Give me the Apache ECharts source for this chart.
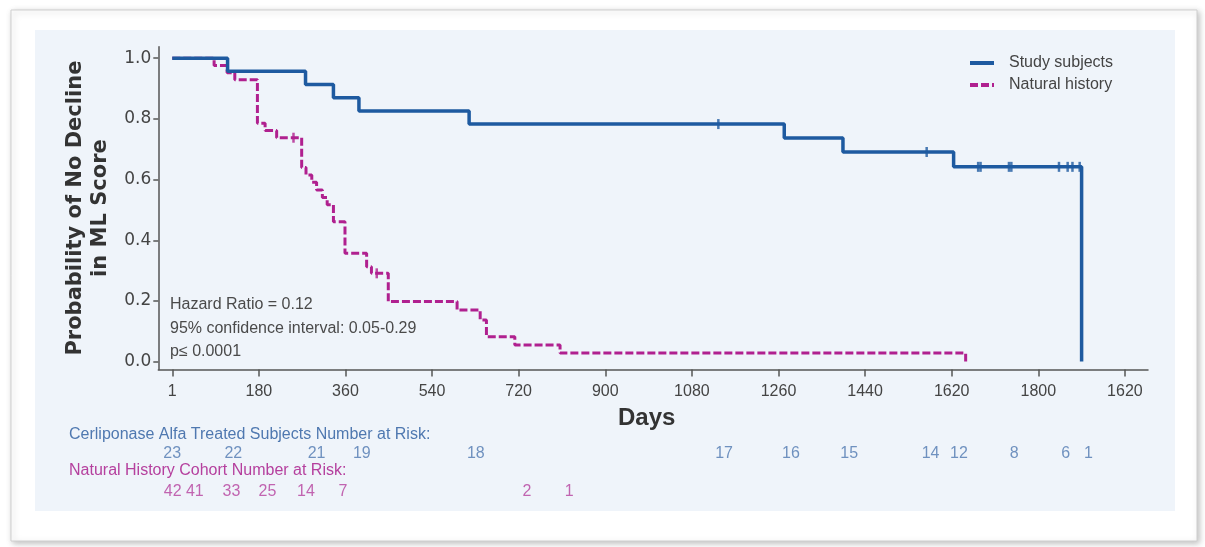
<!DOCTYPE html>
<html><head><meta charset="utf-8">
<script src="https://cdn.jsdelivr.net/npm/echarts@6/dist/echarts.min.js"></script>
<style>html,body{margin:0;padding:0;background:#fff}#c{width:1205px;height:547px}</style>
</head><body><div id="c"></div>
<script>
// ---------- data ----------
const xTickValues = [0, 180, 360, 540, 720, 900, 1080, 1260, 1440, 1620, 1800, 1980];
const xTickLabels = ['1', '180', '360', '540', '720', '900', '1080', '1260', '1440', '1620', '1800', '1620'];
const yTickValues = [0, 0.2, 0.4, 0.6, 0.8, 1.0];

const seriesNames = ['Study subjects', 'Natural history'];

// Kaplan-Meier steps (day of event, survival after event)
const studyDays = [0, 115, 277, 335, 388, 617, 1272, 1394, 1624, 1890];
const studySurv = [1.0, 0.957, 0.913, 0.870, 0.826, 0.783, 0.737, 0.691, 0.642, 0.0];
const studyCensorDays = [1135, 1568, 1675, 1680, 1739, 1744, 1843, 1861, 1871, 1886];

const nhDays = [0, 87, 114, 130, 177, 193, 217, 269, 278, 290, 300, 312, 322, 335, 359, 404, 414, 449, 592, 640, 653, 712, 806, 1649];
const nhSurv = [1.0, 0.976, 0.952, 0.929, 0.786, 0.762, 0.738, 0.640, 0.615, 0.591, 0.566, 0.541, 0.517, 0.461, 0.357, 0.313, 0.291, 0.198, 0.170, 0.137, 0.082, 0.055, 0.028, 0.0];
const nhCensorDays = [252, 425];

// Number at risk rows
const riskStudyDays = [0, 127, 300, 394, 631, 1147, 1286, 1407, 1576, 1635, 1750, 1857, 1904];
const riskStudyN = [23, 22, 21, 19, 18, 17, 16, 15, 14, 12, 8, 6, 1];
const riskNhDays = [1, 47, 123, 198, 278, 355, 737, 825];
const riskNhN = [42, 41, 33, 25, 14, 7, 2, 1];

const riskHeaders = ['Cerliponase Alfa Treated Subjects Number at Risk:', 'Natural History Cohort Number at Risk:'];
const statsLines = ['Hazard Ratio = 0.12', '95% confidence interval: 0.05-0.29', 'p\u2264 0.0001'];

// ---------- helpers ----------
function survAt(days, surv, t) {
  let s = surv[0];
  for (let i = 0; i < days.length; i++) { if (days[i] <= t) s = surv[i]; }
  return s;
}
const blue = '#1e5aa0', magenta = '#b0208f';
const blueText = '#4f78b0', magText = '#b5409e';
const FONT = '"Liberation Sans", Arial, Helvetica, sans-serif';

const chart = echarts.init(document.getElementById('c'));
chart.setOption({
  animation: false,
  backgroundColor: '#ffffff',
  textStyle: { fontFamily: FONT },
  graphic: [
    { type: 'rect', z: -20, shape: { x: 11, y: 10, width: 1186, height: 531 },
      style: { fill: '#ffffff', stroke: '#cfcfcf', lineWidth: 1, shadowBlur: 6, shadowColor: 'rgba(0,0,0,0.25)', shadowOffsetX: 2, shadowOffsetY: 2 } },
    { type: 'rect', z: -19, shape: { x: 35, y: 30, width: 1140, height: 481 },
      style: { fill: '#eff4fa' } },
    { type: 'text', z: 5, left: 170, top: 297, style: { text: statsLines[0], font: '16px ' + FONT, fill: '#4a4a4a' } },
    { type: 'text', z: 5, left: 170, top: 321, style: { text: statsLines[1], font: '16px ' + FONT, fill: '#4a4a4a' } },
    { type: 'text', z: 5, left: 170, top: 344, style: { text: statsLines[2], font: '16px ' + FONT, fill: '#4a4a4a' } },
    { type: 'text', z: 5, left: 69, top: 427, style: { text: riskHeaders[0], font: '16px ' + FONT, fill: blueText } },
    { type: 'text', z: 5, left: 69, top: 463, style: { text: riskHeaders[1], font: '16px ' + FONT, fill: magText } }
  ],
  legend: {
    data: seriesNames,
    orient: 'vertical',
    left: 963, top: 50,
    itemWidth: 24, itemHeight: 12, itemGap: 6,
    itemStyle: { opacity: 0 },
    lineStyle: { width: 4 },
    textStyle: { fontSize: 16, color: '#444', fontFamily: FONT, padding: [0, 0, 0, 10] }
  },
  grid: [
    { left: 158.3, right: 57, top: 46.7, bottom: 177.5 },
    { left: 158.3, right: 57, top: 453.3, height: 38.4 }
  ],
  xAxis: [
    {
      type: 'value', gridIndex: 0, min: -29, max: 2028,
      name: 'Days', nameLocation: 'middle', nameGap: 37,
      nameTextStyle: { fontSize: 24, fontWeight: 'bold', color: '#333', fontFamily: FONT, padding: [0, 13, 0, 0] },
      axisLine: { onZero: false, lineStyle: { color: '#555', width: 1.5 } },
      axisTick: { customValues: xTickValues, length: 7, lineStyle: { color: '#555', width: 1.5 } },
      axisLabel: {
        customValues: xTickValues, margin: 14, fontSize: 16, color: '#444', fontFamily: FONT,
        formatter: v => { const i = xTickValues.indexOf(v); return i >= 0 ? xTickLabels[i] : ''; }
      },
      splitLine: { show: false }
    },
    { type: 'value', gridIndex: 1, min: -29, max: 2028, show: false }
  ],
  yAxis: [
    {
      type: 'value', gridIndex: 0, min: -0.026, max: 1.038,
      name: 'Probability of No Decline\nin ML Score', nameLocation: 'middle', nameGap: 44,
      nameTextStyle: { fontSize: 21, fontWeight: 'bold', color: '#333', fontFamily: '"DejaVu Sans", sans-serif', lineHeight: 25, align: 'center', padding: [0, 0, 0, 0] },
      axisLine: { show: true, onZero: false, lineStyle: { color: '#555', width: 1.5 } },
      axisTick: { show: true, customValues: yTickValues, length: 5, lineStyle: { color: '#555', width: 1.5 } },
      axisLabel: {
        customValues: yTickValues, margin: 7, fontSize: 17, color: '#444', fontFamily: '"DejaVu Sans", sans-serif',
        formatter: v => v.toFixed(1)
      },
      splitLine: { show: false }
    },
    { type: 'value', gridIndex: 1, min: 0, max: 1, inverse: true, show: false }
  ],
  series: [
    {
      name: seriesNames[0], type: 'line', step: 'end', symbol: 'none', xAxisIndex: 0, yAxisIndex: 0,
      data: studyDays.map((d, i) => [d, studySurv[i]]),
      lineStyle: { color: blue, width: 3.5 }, itemStyle: { color: blue }, z: 4
    },
    {
      name: seriesNames[1], type: 'line', step: 'end', symbol: 'none', xAxisIndex: 0, yAxisIndex: 0,
      data: nhDays.map((d, i) => [d, nhSurv[i]]),
      lineStyle: { color: magenta, width: 3, type: [8, 3] }, itemStyle: { color: magenta }, z: 3
    },
    {
      name: 'study censored', type: 'scatter', symbol: 'rect', symbolSize: [2.5, 10], xAxisIndex: 0, yAxisIndex: 0,
      data: studyCensorDays.map(d => [d, survAt(studyDays, studySurv, d)]),
      itemStyle: { color: blue }, z: 5, silent: true
    },
    {
      name: 'nh censored', type: 'scatter', symbol: 'rect', symbolSize: [2.5, 10], xAxisIndex: 0, yAxisIndex: 0,
      data: nhCensorDays.map(d => [d, survAt(nhDays, nhSurv, d)]),
      itemStyle: { color: magenta }, z: 5, silent: true
    },
    {
      name: 'risk study', type: 'scatter', xAxisIndex: 1, yAxisIndex: 1, symbolSize: 0, silent: true,
      data: riskStudyDays.map((d, i) => [d, 0, riskStudyN[i]]),
      label: { show: true, position: 'inside', formatter: p => String(p.value[2]), fontSize: 16, color: blueText, fontFamily: FONT }
    },
    {
      name: 'risk nh', type: 'scatter', xAxisIndex: 1, yAxisIndex: 1, symbolSize: 0, silent: true,
      data: riskNhDays.map((d, i) => [d, 1, riskNhN[i]]),
      label: { show: true, position: 'inside', formatter: p => String(p.value[2]), fontSize: 16, color: magText, fontFamily: FONT }
    }
  ]
});
</script></body></html>
